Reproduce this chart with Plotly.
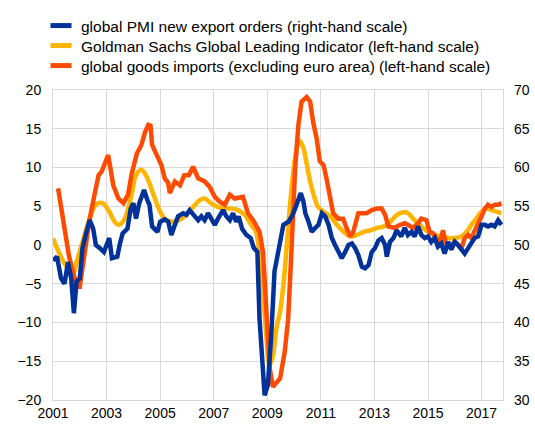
import plotly.graph_objects as go

# ---- data (decimal years) ----
pmi_x = [2001.0, 2001.15, 2001.3, 2001.43, 2001.56, 2001.68, 2001.78, 2001.88, 2002.0, 2002.1,
         2002.25, 2002.37, 2002.5, 2002.6, 2002.75, 2002.9, 2003.0, 2003.1, 2003.2, 2003.4,
         2003.5, 2003.6, 2003.78, 2003.9, 2004.0, 2004.1, 2004.22, 2004.4, 2004.52, 2004.6,
         2004.7, 2004.9, 2005.0, 2005.17, 2005.3, 2005.42, 2005.55, 2005.67, 2005.86, 2005.98,
         2006.1, 2006.23, 2006.42, 2006.54, 2006.66, 2006.79, 2006.91, 2007.04, 2007.16, 2007.35,
         2007.47, 2007.6, 2007.72, 2007.84, 2007.93, 2008.06, 2008.22, 2008.38, 2008.5, 2008.63,
         2008.71, 2008.81, 2008.9, 2009.02, 2009.15, 2009.27, 2009.4, 2009.6, 2009.79, 2009.92,
         2010.04, 2010.17, 2010.25, 2010.35, 2010.42, 2010.54, 2010.66, 2010.79, 2010.91, 2011.04,
         2011.16, 2011.29, 2011.41, 2011.53, 2011.66, 2011.78, 2011.91, 2012.03, 2012.16, 2012.28,
         2012.4, 2012.53, 2012.65, 2012.78, 2012.9, 2013.02, 2013.15, 2013.27, 2013.4, 2013.46,
         2013.58, 2013.71, 2013.83, 2013.88, 2014.0, 2014.13, 2014.25, 2014.38, 2014.5, 2014.63,
         2014.75, 2014.88, 2015.0, 2015.12, 2015.25, 2015.37, 2015.5, 2015.62, 2015.75, 2015.87,
         2016.0, 2016.12, 2016.25, 2016.37, 2016.5, 2016.62, 2016.74, 2016.87, 2017.0, 2017.12,
         2017.24, 2017.37, 2017.49, 2017.62, 2017.74]
pmi_y = [48.0, 48.5, 45.7, 45.0, 47.8, 45.7, 41.2, 45.3, 45.7, 49.6,
         51.7, 53.2, 52.1, 50.0, 49.6, 49.1, 50.0, 50.9, 48.3, 48.5,
         50.2, 51.5, 52.1, 54.7, 55.4, 53.4, 55.4, 57.1, 55.8, 55.2,
         52.4, 51.7, 53.0, 53.3, 53.0, 51.3, 52.6, 53.7, 54.1, 53.9,
         54.5, 53.9, 53.2, 53.7, 53.2, 54.1, 53.4, 52.6, 53.4, 54.5,
         53.7, 53.2, 54.1, 53.0, 53.7, 52.1, 51.3, 50.9, 49.6, 49.1,
         40.5, 34.1, 30.6, 31.9, 38.4, 46.6, 49.1, 52.6, 53.0, 53.7,
         54.7, 56.2, 56.7, 55.6, 54.1, 53.0, 51.7, 52.2, 52.6, 54.1,
         53.7, 52.6, 50.9, 50.0, 49.1, 48.3, 49.1, 50.0, 50.2, 49.6,
         48.7, 47.2, 47.0, 47.4, 49.1, 49.6, 50.6, 50.9, 50.0, 48.5,
         50.4, 50.9, 51.9, 51.7, 51.1, 52.2, 51.3, 51.7, 51.1, 52.4,
         51.3, 50.9, 51.1, 50.4, 50.9, 49.8, 50.2, 48.9, 50.4, 49.4,
         50.4, 50.0, 49.4, 48.9, 49.6, 50.4, 50.9, 51.1, 52.6, 52.6,
         52.4, 52.6, 52.4, 53.2, 52.6]

gs_x = [2001.0, 2001.2, 2001.4, 2001.6, 2001.75, 2001.9, 2002.1, 2002.37, 2002.6, 2002.85,
        2003.1, 2003.3, 2003.44, 2003.65, 2003.9, 2004.1, 2004.3, 2004.5, 2004.75, 2005.0,
        2005.17, 2005.45, 2005.75, 2005.92, 2006.23, 2006.48, 2006.66, 2006.9, 2007.16, 2007.4,
        2007.65, 2007.9, 2008.15, 2008.4, 2008.58, 2008.7, 2008.82, 2008.95, 2009.08, 2009.2,
        2009.34, 2009.48, 2009.6, 2009.73, 2009.86, 2010.04, 2010.2, 2010.35, 2010.48, 2010.6,
        2010.73, 2010.9, 2011.1, 2011.35, 2011.6, 2011.85, 2012.1, 2012.35, 2012.6, 2012.85,
        2013.1, 2013.35, 2013.6, 2013.78, 2013.96, 2014.2, 2014.5, 2014.75, 2015.0, 2015.25,
        2015.5, 2015.75, 2016.0, 2016.25, 2016.44, 2016.62, 2016.8, 2017.0, 2017.18, 2017.37,
        2017.55, 2017.74]
gs_y = [0.85, -0.8, -2.2, -3.2, -3.7, -2.0, 0.4, 3.4, 5.2, 5.4,
        4.3, 3.0, 2.6, 3.2, 6.0, 9.0, 9.7, 8.8, 6.5, 4.3,
        3.4, 3.0, 3.3, 3.7, 4.9, 5.8, 6.0, 5.4, 4.9, 4.7,
        4.7, 4.5, 3.9, 2.6, 1.7, -0.9, -5.2, -11.0, -15.5, -14.5,
        -10.8, -8.5, -5.2, 0.0, 5.6, 11.2, 13.5, 12.5, 10.3, 8.2,
        6.5, 4.9, 4.3, 3.7, 2.6, 1.7, 1.1, 1.3, 1.7, 1.9,
        2.2, 2.4, 3.0, 3.7, 4.1, 4.2, 3.2, 2.4, 1.7, 1.3,
        1.1, 0.9, 0.9, 1.1, 1.7, 2.6, 3.4, 4.3, 4.7, 4.5,
        4.3, 4.1]

imp_x = [2001.19, 2001.4, 2001.6, 2001.75, 2001.9, 2002.0, 2002.1, 2002.25, 2002.37, 2002.55,
         2002.7, 2002.82, 2002.95, 2003.06, 2003.15, 2003.25, 2003.44, 2003.63, 2003.8, 2003.94,
         2004.13, 2004.3, 2004.44, 2004.56, 2004.64, 2004.7, 2004.9, 2005.05, 2005.17, 2005.3,
         2005.36, 2005.55, 2005.74, 2005.9, 2006.07, 2006.23, 2006.42, 2006.66, 2006.85, 2007.04,
         2007.22, 2007.41, 2007.6, 2007.78, 2008.09, 2008.28, 2008.47, 2008.71, 2008.84, 2008.96,
         2009.09, 2009.21, 2009.4, 2009.48, 2009.65, 2009.78, 2009.9, 2010.04, 2010.16, 2010.28,
         2010.47, 2010.6, 2010.71, 2010.84, 2010.96, 2011.1, 2011.21, 2011.34, 2011.46, 2011.65,
         2011.83, 2011.96, 2012.09, 2012.21, 2012.4, 2012.53, 2012.71, 2012.9, 2013.09, 2013.27,
         2013.4, 2013.52, 2013.77, 2013.88, 2014.13, 2014.25, 2014.44, 2014.63, 2014.75, 2014.94,
         2015.06, 2015.19, 2015.31, 2015.44, 2015.56, 2015.65, 2015.75, 2015.87, 2016.0, 2016.12,
         2016.25, 2016.37, 2016.5, 2016.62, 2016.74, 2016.87, 2017.0, 2017.12, 2017.24, 2017.37,
         2017.49, 2017.62, 2017.74]
imp_y = [7.3, 2.5, -1.5, -3.5, -5.4, -5.4, -3.0, 0.5, 3.4, 6.5,
         9.0, 9.5, 10.5, 11.6, 9.8, 7.7, 6.0, 5.4, 6.5, 9.2,
         11.8, 12.9, 14.6, 15.5, 15.4, 12.9, 11.4, 10.3, 8.6, 8.0,
         6.7, 8.2, 7.7, 9.0, 9.0, 10.1, 8.6, 8.2, 7.5, 6.2,
         5.6, 5.2, 6.5, 6.0, 6.2, 4.1, 3.2, 1.7, -0.9, -7.3,
         -15.9, -18.3, -17.6, -17.2, -13.8, -9.5, -0.9, 9.9, 15.5, 18.5,
         19.1, 18.5, 15.9, 13.8, 10.8, 10.3, 8.6, 6.5, 4.1, 3.4,
         3.4, 2.2, 1.1, 1.7, 4.1, 4.1, 4.1, 4.5, 4.7, 4.7,
         3.9, 2.4, 2.2, 2.5, 2.8, 2.6, 2.2, 2.8, 3.4, 3.2,
         1.7, 1.5, 0.9, 0.2, 1.9, 0.4, 0.0, 0.0, 0.4, 0.0,
         -0.4, 0.9, 1.3, 0.9, 1.7, 2.6, 3.7, 4.7, 5.2, 4.9,
         5.2, 5.2, 5.4]

x_ticks = [2001, 2003, 2005, 2007, 2009, 2011, 2013, 2015, 2017]
left_ticks = [-20, -15, -10, -5, 0, 5, 10, 15, 20]
right_ticks = [30, 35, 40, 45, 50, 55, 60, 65, 70]

names = ["global PMI new export orders (right-hand scale)",
         "Goldman Sachs Global Leading Indicator (left-hand scale)",
         "global goods imports (excluding euro area) (left-hand scale)"]
BLUE, YELLOW, ORANGE = "#003299", "#FFB400", "#FF4B00"
FONT = "Liberation Sans, Arial, sans-serif"

fig = go.Figure()
fig.add_trace(go.Scatter(x=gs_x, y=gs_y, mode="lines", line=dict(color=YELLOW, width=4.5, shape="spline", smoothing=1),
                         showlegend=False, hoverinfo="skip"))
fig.add_trace(go.Scatter(x=imp_x, y=imp_y, mode="lines", line=dict(color=ORANGE, width=4.5),
                         showlegend=False, hoverinfo="skip"))
fig.add_trace(go.Scatter(x=pmi_x, y=pmi_y, mode="lines", line=dict(color=BLUE, width=4.5),
                         yaxis="y2", showlegend=False, hoverinfo="skip"))

# legend entries (swatches), one legend per row for exact spacing
legend_ids = ["legend", "legend2", "legend3"]
for nm, col, lid in zip(names, [BLUE, YELLOW, ORANGE], legend_ids):
    fig.add_trace(go.Scatter(x=[None], y=[None], mode="markers", name=nm, legend=lid,
                             marker=dict(symbol="line-ew", size=15, line=dict(color=col, width=6))))

legend_common = dict(xref="container", yref="container", x=41 / 535, xanchor="left", yanchor="top",
                     font=dict(size=15.5, family=FONT), itemsizing="trace", bgcolor="rgba(0,0,0,0)")

grid = "#d9d9d9"
fig.update_layout(
    width=535, height=428,
    margin=dict(l=53, r=32, t=90, b=28, autoexpand=False),
    paper_bgcolor="white", plot_bgcolor="white",
    font=dict(family=FONT, size=14, color="#000000"),
    legend=dict(y=1 - 9 / 428, **legend_common),
    legend2=dict(y=1 - 29 / 428, **legend_common),
    legend3=dict(y=1 - 49 / 428, **legend_common),
    xaxis=dict(range=[2001, 2017.8], tickvals=x_ticks, ticktext=[str(t) for t in x_ticks],
               showgrid=True, gridcolor=grid, gridwidth=1, zeroline=False,
               showline=True, linecolor=grid, mirror=True, ticks="", tickfont=dict(size=14)),
    yaxis=dict(range=[-20, 20], tickvals=left_ticks, showgrid=True, gridcolor=grid, gridwidth=1,
               zeroline=False, showline=True, linecolor=grid, mirror=True, ticks="",
               ticklabelstandoff=8, tickfont=dict(size=14)),
    yaxis2=dict(range=[30, 70], tickvals=right_ticks, overlaying="y", side="right", showgrid=False,
                zeroline=False, ticks="", ticklabelstandoff=10, tickfont=dict(size=14)),
)

fig.write_html("out.html", config={"displayModeBar": False},
               post_script="document.body.style.margin='0px';document.body.style.padding='0px';")
